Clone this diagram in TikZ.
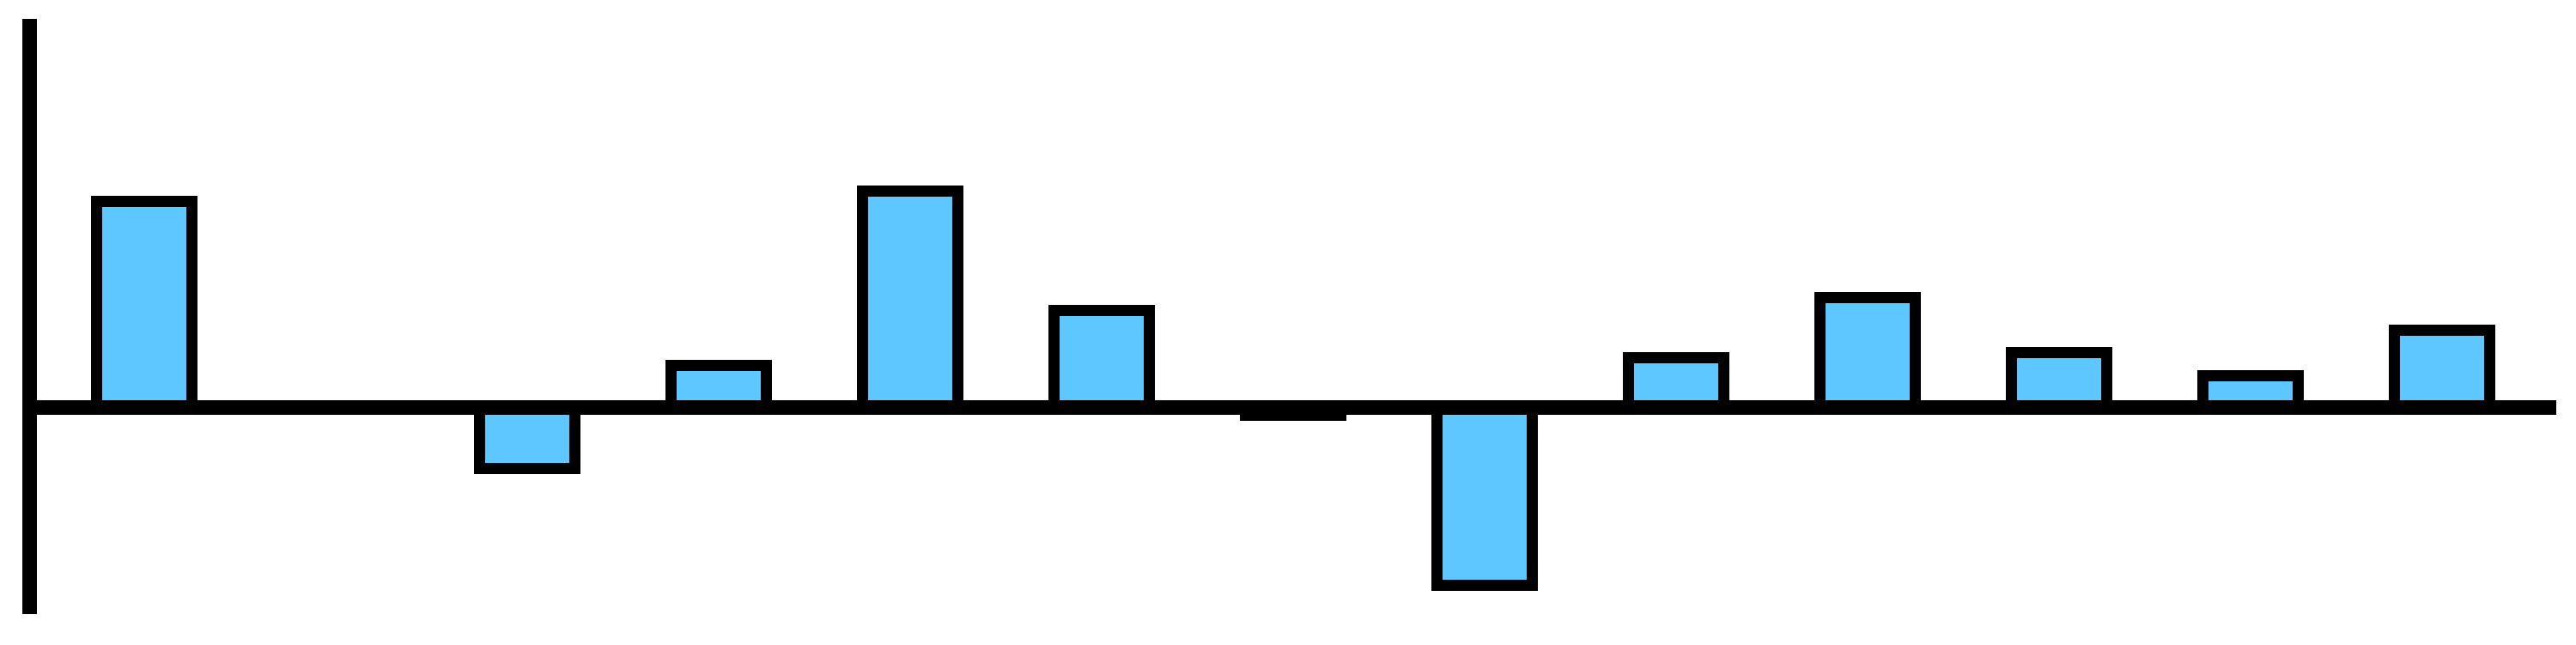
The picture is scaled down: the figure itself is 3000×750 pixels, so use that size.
\documentclass[tikz,border=0pt]{standalone}
\definecolor{barblue}{RGB}{94,199,255}
\tikzset{
  barbox/.style={draw=black, fill=barblue, line width=0.13cm, line join=miter},
  axisline/.style={draw=black, line width=0.167cm, line cap=butt}
}
\begin{document}
\begin{tikzpicture}[x=0.01cm,y=0.01cm]
\useasboundingbox (0,0) rectangle (3000,750);
\def\base{275.7}
\foreach \k/\h in {1/239.6, 2/0, 3/-70.7, 4/48.8, 5/251.6, 6/112.9, 7/-8.9, 8/-207.2, 9/57.4, 10/127.7, 11/63.6, 12/37.3, 13/89.9}{
  \pgfmathsetmacro{\cx}{168+(\k-1)*223}
  \ifdim \h pt=0pt\relax\else
  \path[barbox] (\cx-55.75,\base) rectangle (\cx+55.75,\base+\h);
  \fi
}
\coordinate (ytop) at (34.5,728);
\coordinate (ybot) at (34.5,35);
\coordinate (xl) at (26,\base);
\coordinate (xr) at (2977,\base);
\draw[axisline] (ytop) -- (ybot);
\draw[axisline] (xl) -- (xr);
\end{tikzpicture}
\end{document}
